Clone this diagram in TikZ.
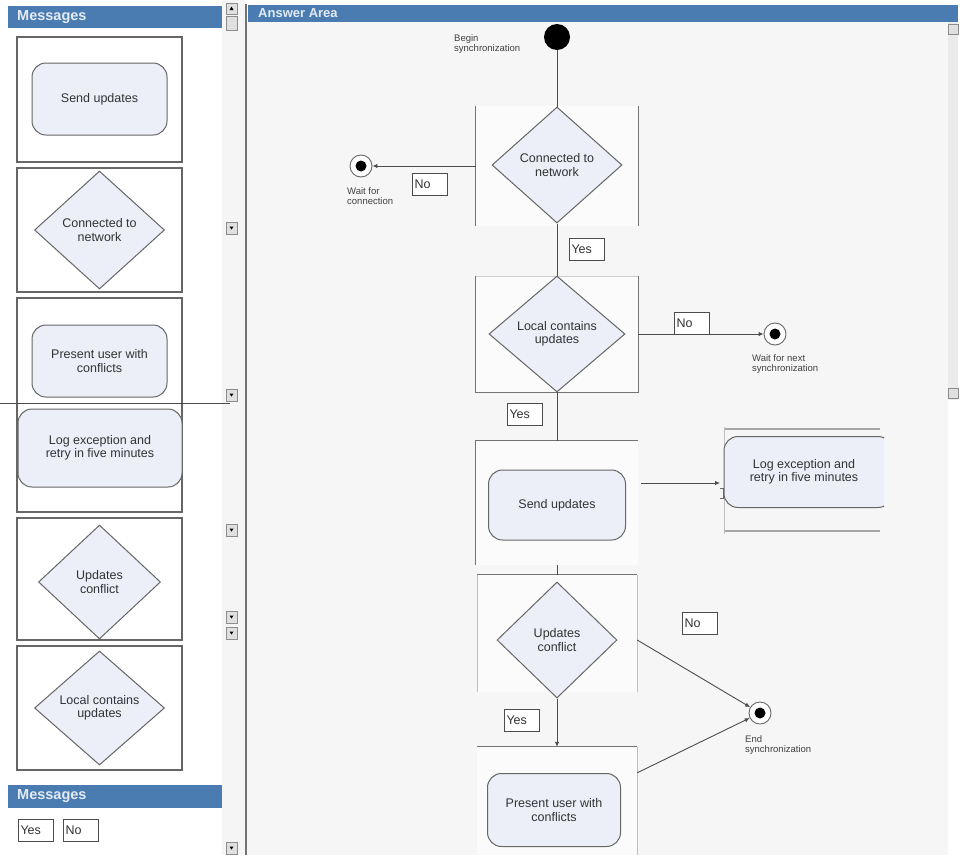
\documentclass[tikz,border=0pt]{standalone}
\usepackage{fontspec}
\setmainfont{Liberation Sans}
\usetikzlibrary{shapes.geometric, arrows.meta}
\definecolor{barblue}{RGB}{74,124,178}
\definecolor{nodefill}{RGB}{236,239,248}
\definecolor{paper}{RGB}{246,246,246}
\definecolor{lanefill}{RGB}{251,251,251}

\begin{document}
\begin{tikzpicture}[
    x=1pt, y=-1pt,
    card/.style={draw=black!60, line width=1.2pt, fill=white},
    activity/.style={rectangle, rounded corners=14pt, draw=black!60,
        line width=1pt, fill=nodefill, align=center, text=black!80,
        font=\fontsize{12.5}{13.5}\selectfont, inner sep=2pt},
    decision/.style={diamond, draw=black!60, line width=1pt, fill=nodefill,
        align=center, inner sep=0pt, text=black!80,
        font=\fontsize{12.5}{13.5}\selectfont},
    lane/.style={rectangle, fill=lanefill, draw=none, inner sep=0pt},
    laneside/.style={draw=black!55, line width=.9pt},
    answer/.style={draw=black!70, fill=white, line width=.7pt,
        font=\fontsize{12.5}{14}\selectfont, minimum width=35pt,
        minimum height=22pt, inner sep=1pt, text width=31pt, align=left,
        text=black!80},
    flow/.style={draw=black!70, line width=.9pt},
    arrowflow/.style={flow, -{Latex[length=5pt, width=4.5pt]}},
    endnode/.style={circle, draw=black!60, fill=white, line width=.9pt,
        minimum size=22pt, inner sep=0pt,
        path picture={\fill[black] (path picture bounding box.center)
            circle (5.5pt);}},
    beginnode/.style={circle, fill=black, minimum size=26pt, inner sep=0pt},
    caption/.style={font=\fontsize{9.5}{10}\selectfont, align=left,
        text=black!75, inner sep=0pt},
    bar/.style={fill=barblue},
    bartitle/.style={font=\bfseries\fontsize{14.5}{16}\selectfont,
        text=white!85!barblue, inner sep=0pt},
    button/.style={fill=black!12, draw=black!45, line width=.6pt},
]
    \useasboundingbox (0,0) rectangle (966,855);
    \fill[white] (0,0) rectangle (966,855);

    %% the message palette on the left, with its scroll bar
    \fill[black!4] (222,0) rectangle (245,855);
    \fill[bar] (8,6) rectangle (222,28);
    \node[bartitle, anchor=west] (msgtitle) at (17,17) {Messages};
    \foreach \y in {228, 395, 530, 617, 633, 848} {
        \filldraw[button] (226,\y-6) rectangle (237,\y+6);
        \fill[black] (229.5,\y-1.5) -- (233.5,\y-1.5) -- (231.5,\y+1.5) -- cycle;
    }
    \filldraw[button] (226,3) rectangle (237,14);
    \fill[black] (229.5,10) -- (233.5,10) -- (231.5,6.5) -- cycle;
    \filldraw[button] (226,16) rectangle (237,30);

    \draw[card] (17,37) rectangle (182,162);
    \node[activity, minimum width=135pt, minimum height=72pt]
        (cardsend) at (99.5,99) {Send updates};
    \draw[card] (17,168) rectangle (182,292);
    \node[decision, minimum width=130pt, minimum height=118pt]
        (cardconn) at (99.5,230) {Connected to\\network};
    \draw[card] (17,298) rectangle (182,512);
    \node[activity, minimum width=135pt, minimum height=72pt]
        (cardpresent) at (99.5,361) {Present user with\\conflicts};
    \draw[black!70, line width=.6pt] (0,403) -- (230,403);
    \node[activity, minimum width=164pt, minimum height=78pt]
        (cardlog) at (100,448) {Log exception and\\retry in five minutes};
    \draw[card] (17,518) rectangle (182,640);
    \node[decision, minimum width=122pt, minimum height=114pt]
        (cardconflict) at (99.5,582) {Updates\\conflict};
    \draw[card] (17,646) rectangle (182,770);
    \node[decision, minimum width=130pt, minimum height=114pt]
        (cardlocal) at (99.5,708) {Local contains\\updates};

    \fill[bar] (8,785) rectangle (222,808);
    \node[bartitle, anchor=west] (msgtitle2) at (17,796.5) {Messages};
    \node[answer] (palyes) at (36,830) {Yes};
    \node[answer] (palno) at (81,830) {No};

    %% the answer area
    \fill[paper] (245,22) rectangle (948,855);
    \fill[bar] (248,5) rectangle (958,22);
    \node[bartitle, font=\bfseries\fontsize{13}{14}\selectfont,
        anchor=west] (anstitle) at (258,13.5) {Answer Area};
    \draw[black!55, line width=1.5pt] (246,4) -- (246,855);
    \fill[black!8] (948,22) rectangle (958,400);
    \filldraw[button] (948,24) rectangle (958,34);
    \filldraw[button] (948,388) rectangle (958,398);

    %% the swim-lane frames behind the flow
    \node[lane, minimum width=162pt, minimum height=120pt] (lane1) at (557,166) {};
    \draw[laneside] (lane1.north west) -- (lane1.south west);
    \draw[laneside] (lane1.north east) -- (lane1.south east);
    \node[lane, minimum width=162pt, minimum height=116pt] (lane2) at (557,334) {};
    \draw[laneside] (lane2.north west) -- (lane2.south west)
        -- (lane2.south east) -- (lane2.north east);
    \draw[black!20, line width=.6pt] (lane2.north west) -- (lane2.north east);
    \node[lane, minimum width=162pt, minimum height=124pt] (lane3) at (557,503) {};
    \draw[laneside] (lane3.south west) -- (lane3.north west) -- (lane3.north east);
    \node[lane, minimum width=160pt, minimum height=117pt] (lane4) at (557,633.5) {};
    \draw[laneside] (lane4.north west) -- (lane4.north east);
    \draw[black!25, line width=.6pt] (lane4.north west) -- (lane4.south west);
    \draw[black!25, line width=.6pt] (lane4.north east) -- (lane4.south east);
    \node[lane, minimum width=160pt, minimum height=108pt] (lane5) at (557,801) {};
    \draw[laneside] (lane5.north west) -- (lane5.north east);
    \draw[black!25, line width=.6pt] (lane5.north east) -- (lane5.south east);

    %% the flow itself
    \node[beginnode] (begin) at (557,37) {};
    \node[caption, anchor=west] (beginlabel) at (454,44) {Begin\\synchronization};
    \node[decision, minimum width=130pt, minimum height=116pt]
        (connected) at (557,165) {Connected to\\network};
    \node[decision, minimum width=136pt, minimum height=116pt]
        (local) at (557,334) {Local contains\\updates};
    \node[activity, minimum width=137pt, minimum height=70pt]
        (send) at (557,505) {Send updates};
    \node[decision, minimum width=120pt, minimum height=116pt]
        (conflict) at (557,640) {Updates\\conflict};
    \node[activity, minimum width=133pt, minimum height=73pt]
        (present) at (554,810) {Present user with\\conflicts};

    %% the log box, cut off at its right
    \draw[black!35, line width=2.5pt] (724,429) -- (880,429);
    \draw[black!35, line width=2.5pt] (724,531) -- (880,531);
    \draw[black!25, line width=.6pt] (724,427) -- (724,534);
    \begin{scope}
        \clip (700,420) rectangle (884,540);
        \node[activity, minimum width=168pt, minimum height=71pt]
            (logretry) at (808,472) {\hspace*{-8pt}Log exception and\\
            \hspace*{-8pt}retry in five minutes};
    \end{scope}
    \coordinate (logpin) at (720,483);

    %% the end points
    \node[endnode] (waitconn) at (361,166) {};
    \node[caption, anchor=north west] (waitconnlabel) at (347,187)
        {Wait for\\connection};
    \node[endnode] (waitnext) at (775,334) {};
    \node[caption, anchor=north west] (waitnextlabel) at (752,354)
        {Wait for next\\synchronization};
    \node[endnode] (finish) at (760,713) {};
    \node[caption, anchor=north west] (finishlabel) at (745,735)
        {End\\synchronization};

    %% connectors
    \draw[flow] (begin) -- (connected.north);
    \draw[arrowflow] (lane1.west) -- (waitconn);
    \draw[flow] (connected.south) -- (lane2.north);
    \draw[arrowflow] (lane2.east) -- (waitnext);
    \draw[flow] (lane2.south) -- (lane3.north);
    \draw[arrowflow] ([xshift=3pt]lane3.east |- logpin) -- (logpin);
    \draw[black!60, line width=.8pt] ([yshift=-5pt]logpin) -- ++(3,0)
        -- ++(0,10) -- ++(-3,0);
    \draw[flow] (lane3.south) -- (lane4.north);
    \draw[arrowflow] (conflict.south) -- (lane5.north);
    \draw[arrowflow] (lane4.east |- conflict) -- (finish);
    \draw[arrowflow] ([yshift=-26pt]lane5.north east) -- (finish);

    %% the answers dropped onto the connectors
    \node[answer] (no1) at (430,184) {No};
    \node[answer] (yes1) at (587,249) {Yes};
    \node[answer] (no2) at (692,323) {No};
    \node[answer] (yes2) at (525,414) {Yes};
    \node[answer] (no3) at (700,623) {No};
    \node[answer] (yes3) at (522,720) {Yes};
\end{tikzpicture}
\end{document}
